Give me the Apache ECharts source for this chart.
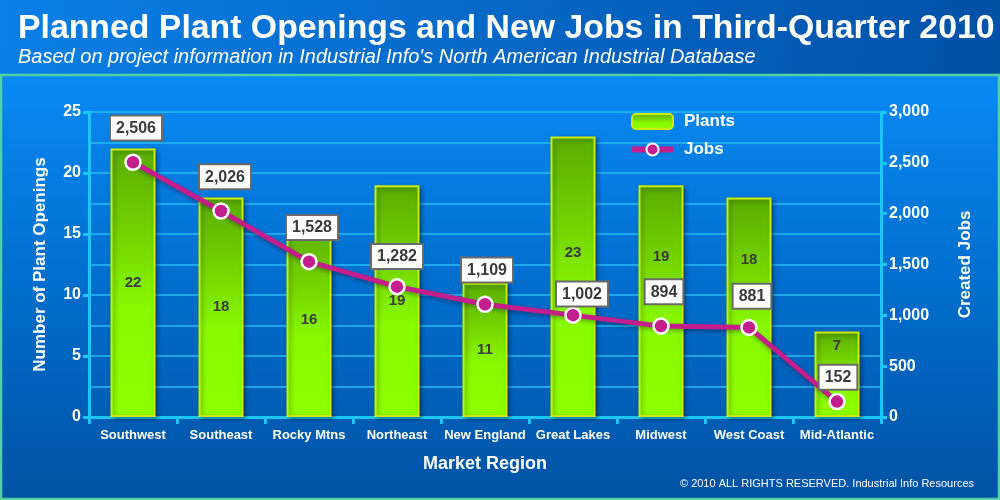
<!DOCTYPE html>
<html>
<head>
<meta charset="utf-8">
<script src="https://cdn.jsdelivr.net/npm/echarts@6/dist/echarts.min.js"></script>
<style>
html,body{margin:0;padding:0;background:#0060c0;}
#chart{width:1000px;height:500px;}
</style>
</head>
<body>
<div id="chart"></div>
<script>
var regions = ['Southwest','Southeast','Rocky Mtns','Northeast','New England','Great Lakes','Midwest','West Coast','Mid-Atlantic'];
var plants = [22, 18, 16, 19, 11, 23, 19, 18, 7];
var jobs = [2506, 2026, 1528, 1282, 1109, 1002, 894, 881, 152];
var plantTicks = [0, 25, 5];     // min, max, interval
var jobTicks = [0, 3000, 500];

// label nudges (px) so value tags sit where the original put them
var barLabelShift = [0, 0, 0, 0, 0, -24, -44, -47, -28];
var jobLabelShift = [[3,2],[4,2],[3,2],[0,6],[2,2],[9,15],[3,2],[3,5],[1,12]];

function commas(v){ return String(v).replace(/\B(?=(\d{3})+(?!\d))/g, ','); }

var myChart = echarts.init(document.getElementById('chart'));
var font = 'Liberation Sans, Arial, sans-serif';
var cyan = '#1cc6f6';

var barData = plants.map(function(v, i){
	return {value: v, label: {offset: [0, barLabelShift[i]]}};
});
var jobData = jobs.map(function(v, i){
	return {value: v, label: {offset: jobLabelShift[i]}};
});

var option = {
	animation: false,
	textStyle: {fontFamily: font},
	graphic: [
		{ type: 'rect', z: -10, shape: {x: 0, y: 0, width: 1000, height: 76},
		  style: {fill: new echarts.graphic.LinearGradient(0, 0, 1, 1, [
			{offset: 0, color: '#0a7fe6'}, {offset: 1, color: '#0050a6'}])} },
		{ type: 'rect', z: -10, shape: {x: 1, y: 75, width: 998, height: 424},
		  style: {stroke: '#52d2a2', lineWidth: 2.5,
			fill: new echarts.graphic.LinearGradient(0, 0, 0, 1, [
			{offset: 0, color: '#0a8af4'}, {offset: 0.45, color: '#0070d0'}, {offset: 1, color: '#0052a4'}])} },
		{ type: 'text', right: 26, top: 478,
		  style: {text: '\u00a9 2010 ALL RIGHTS RESERVED. Industrial Info Resources', fill: '#ffffff',
			font: '11px Liberation Sans Narrow, Liberation Sans, Arial'} }
	],
	title: {
		text: 'Planned Plant Openings and New Jobs in Third-Quarter 2010',
		subtext: "Based on project information in Industrial Info's North American Industrial Database",
		left: 13, top: 7, itemGap: 1,
		textStyle: {color: '#ffffff', fontSize: 33.8, fontWeight: 'bold', fontFamily: font},
		subtextStyle: {color: '#ffffff', fontSize: 20, fontStyle: 'italic', fontFamily: font}
	},
	legend: {
		orient: 'vertical', left: 624, top: 108, itemWidth: 41, itemHeight: 15, itemGap: 11,
		textStyle: {color: '#ffffff', fontSize: 17, fontWeight: 'bold', padding: [0, 0, 0, 6]},
		data: ['Plants', {name: 'Jobs', lineStyle: {width: 6}}]
	},
	grid: {left: 89, right: 119, top: 112, bottom: 83},
	xAxis: {
		type: 'category', data: regions,
		name: 'Market Region', nameLocation: 'middle', nameGap: 38,
		nameTextStyle: {color: '#ffffff', fontSize: 18, fontWeight: 'bold'},
		axisLine: {lineStyle: {color: cyan, width: 3}},
		axisTick: {show: true, length: 7, lineStyle: {color: cyan, width: 3}},
		axisLabel: {color: '#ffffff', fontSize: 13, fontWeight: 'bold', margin: 12, interval: 0,
			fontFamily: 'Liberation Sans Narrow, Liberation Sans, Arial'}
	},
	yAxis: [
		{
			type: 'value', min: plantTicks[0], max: plantTicks[1], interval: plantTicks[2],
			name: 'Number of Plant Openings', nameLocation: 'middle', nameGap: 40,
			nameTextStyle: {color: '#ffffff', fontSize: 17, fontWeight: 'bold'},
			axisLine: {show: true, lineStyle: {color: cyan, width: 3}},
			axisTick: {show: true, length: 6, lineStyle: {color: cyan, width: 3}},
			axisLabel: {color: '#ffffff', fontSize: 16, fontWeight: 'bold', margin: 8},
			splitLine: {lineStyle: {color: '#26bcf4', width: 1.5}},
			minorTick: {show: false, splitNumber: 2},
			minorSplitLine: {show: true, lineStyle: {color: '#26bcf4', width: 1.5}}
		},
		{
			type: 'value', min: jobTicks[0], max: jobTicks[1], interval: jobTicks[2],
			name: 'Created Jobs', nameLocation: 'middle', nameGap: 76,
			nameTextStyle: {color: '#ffffff', fontSize: 17, fontWeight: 'bold'},
			axisLine: {show: true, lineStyle: {color: cyan, width: 3}},
			axisTick: {show: true, length: 6, lineStyle: {color: cyan, width: 3}},
			axisLabel: {color: '#ffffff', fontSize: 16, fontWeight: 'bold', margin: 8, formatter: commas},
			splitLine: {show: false}
		}
	],
	series: [
		{
			name: 'Plants', type: 'bar', data: barData, barWidth: 45,
			itemStyle: {
				color: new echarts.graphic.LinearGradient(0, 0, 0, 1, [
					{offset: 0, color: '#5aac00'}, {offset: 0.35, color: '#76d800'}, {offset: 0.6, color: '#88fa00'}, {offset: 1, color: '#8cff00'}]),
				borderColor: '#cdeb10', borderWidth: 2,
				shadowColor: 'rgba(0,0,0,0.35)', shadowBlur: 4, shadowOffsetX: 2, shadowOffsetY: 2
			},
			label: {show: true, position: 'inside', color: '#3c3c3c', fontSize: 15, fontWeight: 'bold'}
		},
		{
			name: 'Jobs', type: 'line', yAxisIndex: 1, data: jobData,
			symbol: 'circle', symbolSize: 15,
			lineStyle: {color: '#c41e8c', width: 5, shadowColor: 'rgba(0,0,0,0.35)', shadowBlur: 4, shadowOffsetY: 2},
			itemStyle: {color: '#c41e8c', borderColor: '#ffffff', borderWidth: 2.5},
			label: {
				show: true, position: 'top', distance: 16,
				formatter: function(p){ return commas(p.value); },
				color: '#3a3a3a', fontSize: 16, fontWeight: 'bold',
				backgroundColor: '#ffffff', borderColor: '#6a6a6a', borderWidth: 2, padding: [4, 5, 3, 5]
			}
		}
	]
};
myChart.setOption(option);
</script>
</body>
</html>
